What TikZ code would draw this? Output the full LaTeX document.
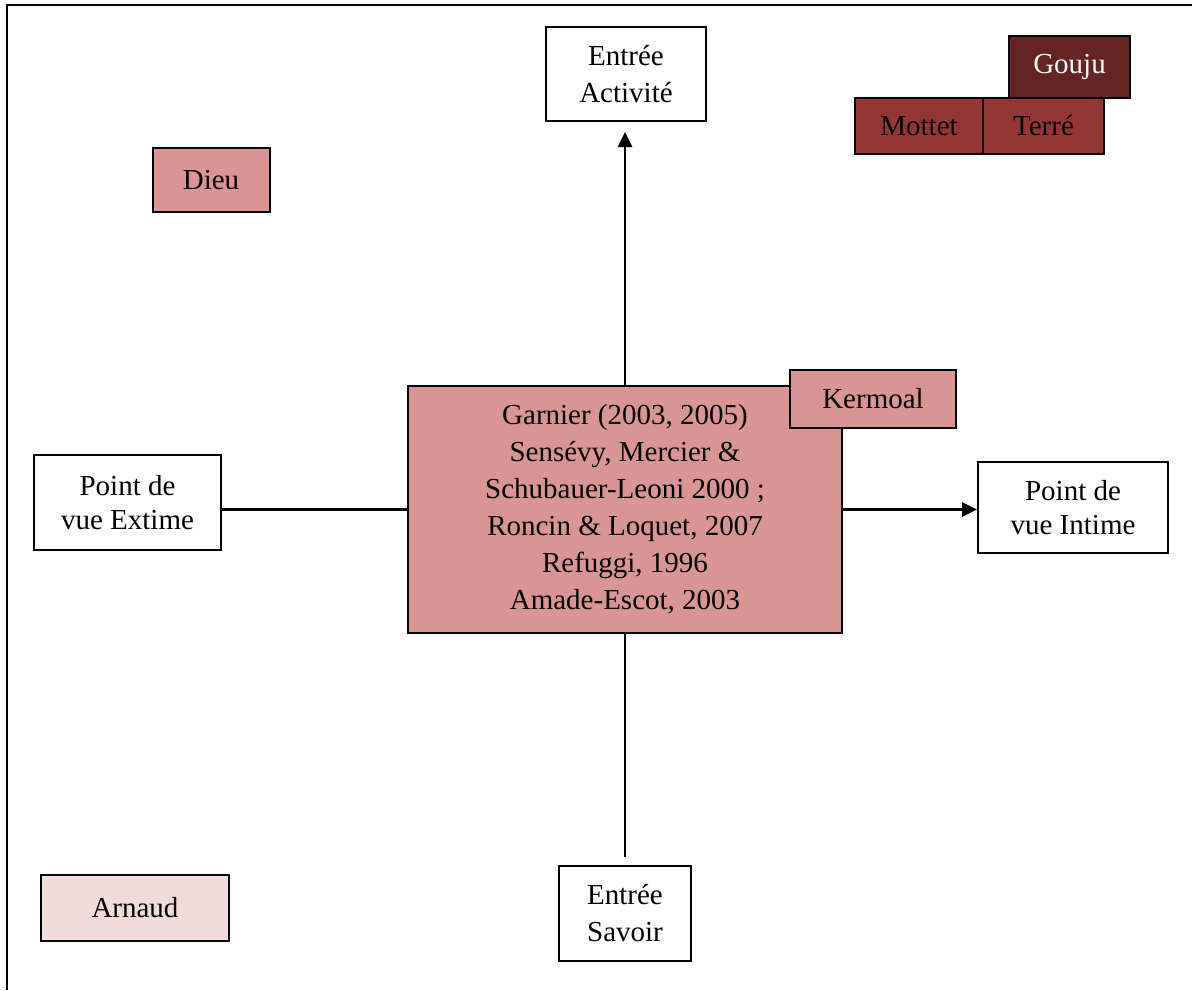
\documentclass[tikz,border=0pt]{standalone}
\usepackage{fontspec}
\setmainfont{Liberation Serif}
\usetikzlibrary{arrows.meta}
\definecolor{roseclair}{HTML}{D99594}
\definecolor{rosepale}{HTML}{F2DBDB}
\definecolor{rougemoyen}{HTML}{943634}
\definecolor{rougefonce}{HTML}{632423}
\begin{document}
\begin{tikzpicture}[x=0.5pt,y=-0.5pt]
\tikzstyle{boite}=[draw,line width=1pt,align=center,inner sep=0pt,font=\fontsize{14.5}{18.5}\selectfont]
\tikzstyle{entree}=[boite,fill=white]
\tikzstyle{auteur}=[boite,fill=roseclair]
\tikzstyle{ligne}=[line width=1.3pt]
\tikzstyle{fleche}=[ligne,-{Triangle[length=7.5pt,width=7pt]}]
\useasboundingbox (0,0) rectangle (1192,990);
\draw[line width=1.3pt] (7,990) -- (7,5) -- (1192,5);

% les quatre entrees
\node [entree,minimum width=80pt,minimum height=47pt] (act) at (626,74) {Entrée\\Activité};
\node [entree,minimum width=66pt,minimum height=47.5pt] (sav) at (625,913.5) {Entrée\\Savoir};
\node [entree,minimum width=93.5pt,minimum height=47.5pt,font=\fontsize{14.5}{17}\selectfont] (ext) at (127.5,502.5) {Point de\\vue Extime};
\node [entree,minimum width=95pt,minimum height=45.5pt,font=\fontsize{14.5}{17}\selectfont] (int) at (1073,507.5) {Point de\\vue Intime};

% auteurs
\node [auteur,minimum width=217pt,minimum height=123.5pt] (main) at (625,509.5) {Garnier (2003, 2005)\\Sensévy, Mercier \&\\Schubauer-Leoni 2000 ;\\Roncin \& Loquet, 2007\\Refuggi, 1996\\Amade-Escot, 2003};
\node [auteur,minimum width=83pt,minimum height=29pt] (kermoal) at (873,399) {Kermoal};
\node [auteur,minimum width=58.5pt,minimum height=32pt] (dieu) at (211,180) {Dieu};
\node [boite,fill=rosepale,minimum width=94pt,minimum height=33pt] (arnaud) at (135,908) {Arnaud};
\node [boite,fill=rougefonce,text=white,minimum width=60.5pt,minimum height=31pt] (gouju) at (1069.5,67) {Gouju};
\node [boite,fill=rougemoyen,minimum width=64pt,minimum height=28pt] (mottet) at (919,126) {Mottet};
\node [boite,fill=rougemoyen,minimum width=60.5pt,minimum height=28pt] (terre) at (1043.5,126) {Terré};

% axes
\draw[fleche] (main.north) -- ([yshift=-5pt]main.north |- act.south);
\draw[ligne] (main.south) -- ([yshift=4pt]main.south |- sav.north);
\draw[ligne] (ext.east |- main.west) -- (main.west);
\draw[fleche] (main.east) -- (main.east -| int.west);
\end{tikzpicture}
\end{document}
